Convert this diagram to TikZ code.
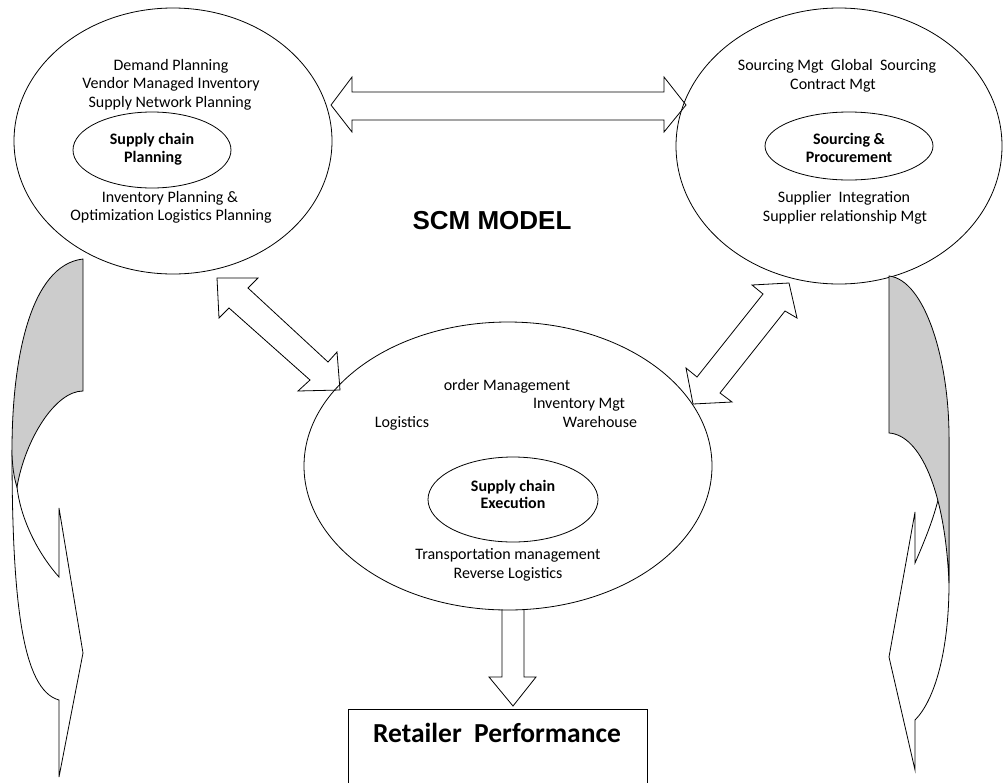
\documentclass[tikz,border=0pt]{standalone}
\usepackage{fontspec}
\setmainfont{Carlito}
\newfontfamily\arialfont{Liberation Sans}
\usetikzlibrary{shapes.geometric}
\begin{document}
\begin{tikzpicture}[x=1pt,y=-1pt, line width=0.8pt,
  oval/.style={draw, ellipse, inner sep=0pt},
  txt/.style={anchor=base, inner sep=0pt, font=\fontsize{16}{18}\selectfont},
  btxt/.style={anchor=base, inner sep=0pt, font=\fontsize{16}{18}\selectfont\bfseries},
  blockarrow/.style={draw, line join=miter},
  frontband/.style={draw, fill=white},
  backband/.style={draw, fill=black!20}]
\useasboundingbox (0,0) rectangle (1003,782);
\clip (0,0) rectangle (1003,782);

% ellipses
\node[oval, minimum width=318pt, minimum height=266pt] (plan) at (173,141) {};
\node[oval, minimum width=158pt, minimum height=76pt] (planc) at (152,150) {};
\node[oval, minimum width=326pt, minimum height=276pt] (src) at (839,146) {};
\node[oval, minimum width=168pt, minimum height=68pt] (srcc) at (849,146) {};
\node[oval, minimum width=408pt, minimum height=288pt] (exe) at (508,466) {};
\node[oval, minimum width=170pt, minimum height=85pt] (exec) at (513,499.5) {};

% planning texts
\node[txt] (p1) at (171,70) {Demand Planning};
\node[txt] (p2) at (171,88) {Vendor Managed Inventory};
\node[txt] (p3) at (170,107) {Supply Network Planning};
\node[btxt] (p4) at (152,144) {Supply chain};
\node[btxt] (p5) at (153,162) {Planning};
\node[txt] (p6) at (170,202) {Inventory Planning \&};
\node[txt] (p7) at (171,220) {Optimization Logistics Planning};

% sourcing texts
\node[txt] (s1) at (837,70) {Sourcing Mgt\ \ Global\ \ Sourcing};
\node[txt] (s2) at (833,89) {Contract Mgt};
\node[btxt] (s3) at (849,144) {Sourcing \&};
\node[btxt] (s4) at (849,162) {Procurement};
\node[txt] (s5) at (844,202) {Supplier\ \ Integration};
\node[txt] (s6) at (845,221) {Supplier relationship Mgt};

% execution texts
\node[txt] (e1) at (507,390) {order Management};
\node[txt] (e2) at (579,408) {Inventory Mgt};
\node[txt] (e3) at (402,427) {Logistics};
\node[txt] (e4) at (600,427) {Warehouse};
\node[btxt] (e5) at (513,491) {Supply chain};
\node[btxt] (e6) at (513,508) {Execution};
\node[txt] (e7) at (508,559) {Transportation management};
\node[txt] (e8) at (508,578) {Reverse Logistics};

% title
\node[anchor=base, inner sep=0pt, font=\arialfont\bfseries\fontsize{26}{28}\selectfont] (title) at (492,229) {SCM MODEL};

% block arrows
\draw[blockarrow] (331,105) -- (352,77) -- (352,92) -- (664,92) -- (664,77) -- (686,105)
  -- (664,132) -- (664,120) -- (352,120) -- (352,132) -- cycle;
\draw[blockarrow] (217,278) -- (258,278) -- (248,288) -- (328,362) -- (337,352) -- (340,390)
  -- (298,391) -- (310,380) -- (229,308) -- (219,318) -- cycle;
\draw[blockarrow] (789,283) -- (797,318) -- (785,311) -- (720,393) -- (732,402) -- (693,404)
  -- (686,368) -- (697,377) -- (763,294) -- (752,285) -- cycle;
\draw[blockarrow] (502,609) -- (502,677) -- (489,677) -- (513,706) -- (536,677) -- (524,677) -- (524,609);

% retailer box
\draw (348,790) -- (348,709) -- (647,709) -- (647,790);
\node[anchor=base, inner sep=0pt, font=\fontsize{27.5}{30}\selectfont\bfseries] (ret) at (497,742) {Retailer\ \ Performance};

% left curved arrow
\draw[frontband] (12,450) .. controls (12,600) and (22,690) .. (59,700) -- (59,777) -- (83,653)
  -- (59,508) -- (59,577) .. controls (35,550) and (20,515) .. (17,487) -- cycle;
\draw[backband] (83,259) .. controls (30,265) and (12,360) .. (12,450)
  .. controls (12,465) and (14,478) .. (17,487) .. controls (25,440) and (55,391) .. (83,391) -- cycle;

% right curved arrow
\draw[frontband] (949,437) -- (949,583) .. controls (949,650) and (935,700) .. (915,720) -- (915,770)
  -- (889,657) -- (915,512) -- (915,563) .. controls (925,540) and (933,520) .. (938,500) -- cycle;
\draw[backband] (889,276) .. controls (925,280) and (949,360) .. (949,437) -- (949,583)
  .. controls (945,490) and (920,435) .. (889,433) -- cycle;
\end{tikzpicture}
\end{document}
